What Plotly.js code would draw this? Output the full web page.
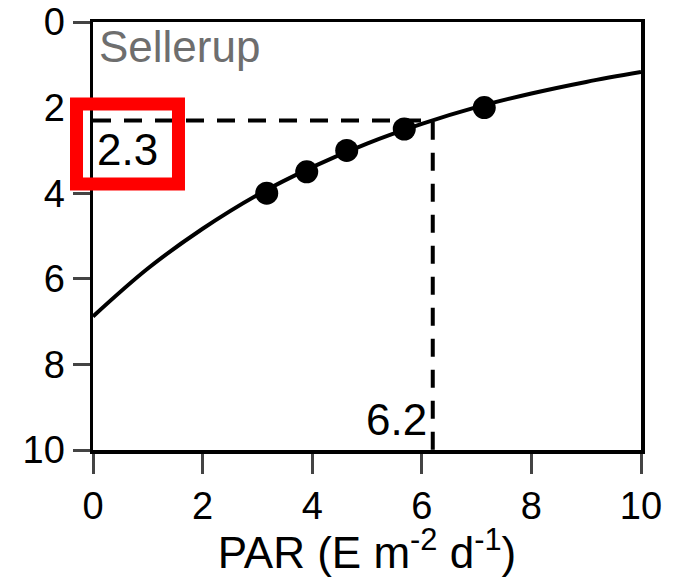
<!DOCTYPE html>
<html>
<head>
<meta charset="utf-8">
<script src="https://cdn.plot.ly/plotly-3.0.1.min.js"></script>
<style>html,body{margin:0;padding:0;background:#fff;}#chart{width:679px;height:577px;}</style>
</head>
<body>
<div id="chart"></div>
<script>
// Observed points (PAR vs depth)
const parObs = [3.17, 3.90, 4.63, 5.68, 7.14];
const depthObs = [4.0, 3.5, 3.0, 2.5, 2.0];

// Fitted curve
const parFit = [0, 1, 2, 3, 4, 5, 6, 7, 8, 9, 10];
const depthFit = [6.88, 5.76, 4.83, 4.04, 3.39, 2.84, 2.38, 1.99, 1.67, 1.40, 1.17];

// Reference (dashed) guide lines
const refPar = [0, 6.2, 6.2];
const refDepth = [2.3, 2.3, 10];

// Tick labels
const tickVals = [0, 2, 4, 6, 8, 10];
const tickText = ['0', '2', '4', '6', '8', '10'];

const FONT = 'Liberation Sans, Arial, sans-serif';

const traces = [
  {x: refPar, y: refDepth, mode: 'lines', line: {color: '#000', width: 4, dash: '18px,13px'}, hoverinfo: 'skip', cliponaxis: false},
  {x: parFit, y: depthFit, mode: 'lines', line: {color: '#000', width: 4, shape: 'spline'}, hoverinfo: 'skip'},
  {x: parObs, y: depthObs, mode: 'markers', marker: {color: '#000', size: 23}, cliponaxis: false}
];

const layout = {
  width: 679, height: 577,
  margin: {l: 93, r: 38, t: 22, b: 127},
  paper_bgcolor: '#fff', plot_bgcolor: '#fff',
  showlegend: false,
  font: {family: FONT, color: '#000', size: 38},
  xaxis: {
    range: [0, 10], tickvals: tickVals, ticktext: tickText,
    showgrid: false, zeroline: false,
    showline: true, linecolor: '#000', linewidth: 3.5, mirror: true,
    ticks: 'outside', ticklen: 20, tickwidth: 3, tickcolor: '#444',
    tickfont: {family: FONT, size: 38, color: '#000'},
    title: {text: 'PAR (E m<sup>-2</sup> d<sup>-1</sup>)', font: {family: FONT, size: 44, color: '#000'}, standoff: 0}
  },
  yaxis: {
    range: [10, 0], tickvals: tickVals, ticktext: tickText,
    showgrid: false, zeroline: false,
    showline: true, linecolor: '#000', linewidth: 3.5, mirror: true,
    ticks: 'outside', ticklen: 17, tickwidth: 3, tickcolor: '#444',
    tickfont: {family: FONT, size: 38, color: '#000'}
  },
  annotations: [
    {xref: 'paper', yref: 'paper', x: 0.0, y: 1.0, xanchor: 'left', yanchor: 'top', xshift: 4, yshift: 2,
     text: 'Sellerup', showarrow: false, font: {family: FONT, size: 44, color: '#6e6e6e'}},
    {xref: 'x', yref: 'y', x: 0, y: 2.3, xanchor: 'left', yanchor: 'top', xshift: 2, yshift: -3,
     text: '2.3', showarrow: false, font: {family: FONT, size: 44, color: '#000'}},
    {xref: 'x', yref: 'y', x: 6.2, y: 10, xanchor: 'right', yanchor: 'bottom', xshift: -4, yshift: 4,
     text: '6.2', showarrow: false, font: {family: FONT, size: 44, color: '#000'}}
  ],
  shapes: [
    {type: 'rect', xref: 'paper', yref: 'paper', x0: -0.0301, x1: 0.156, y0: 0.6215, y1: 0.8084,
     line: {color: '#ff0000', width: 13}, fillcolor: 'rgba(0,0,0,0)', layer: 'above'}
  ]
};

Plotly.newPlot('chart', traces, layout, {staticPlot: true, displayModeBar: false});
</script>
</body>
</html>
